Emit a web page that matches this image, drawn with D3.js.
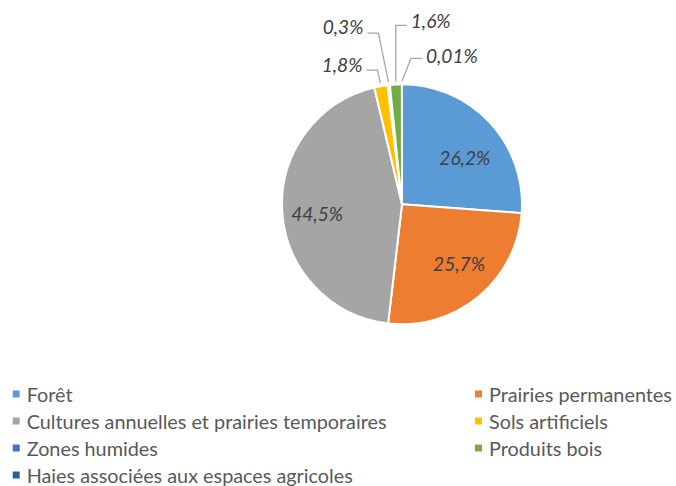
<!DOCTYPE html>
<html>
<head>
<meta charset="utf-8">
<script src="https://cdn.jsdelivr.net/npm/d3@7"></script>
<style>
  html, body { margin: 0; padding: 0; background: #ffffff; }
  svg { display: block; }
</style>
</head>
<body>
<svg id="chart" width="676" height="486"></svg>
<script>
// ---- data ----
const categories = [
  "Forêt",
  "Prairies permanentes",
  "Cultures annuelles et prairies temporaires",
  "Sols artificiels",
  "Zones humides",
  "Produits bois",
  "Haies associées aux espaces agricoles"
];
const values = [26.2, 25.7, 44.5, 1.8, 0.3, 1.6, 0.01];
const valueLabels = ["26,2%", "25,7%", "44,5%", "1,8%", "0,3%", "1,6%", "0,01%"];
const colors = ["#5B9BD5", "#ED7D31", "#A5A5A5", "#FFC000", "#4472C4", "#70AD47", "#255E91"];

// ---- layout (not data) ----
const W = 676, H = 486;
const cx = 402, cy = 204.3, R = 120;
const FONT = "Lato, 'Open Sans', sans-serif";
// inside label nudges relative to centroid (for big slices)
const insideNudge = [[3, 9], [5, -4], [-3.5, 4]];
// outside leader config for small slices: elbow offset from outer point, horizontal dir, text dy
const leaderCfg = {
  3: { elbow: [-3, -13], dir: -1, tdy: -6 },
  4: { elbow: [-10, -49], dir: -1, tdy: -7 },
  5: { elbow: [0, -56], dir: 1, tdy: -5 },
  6: { elbow: [9, -23], dir: 1, tdy: -3 }
};

const svg = d3.select("#chart");
const g = svg.append("g").attr("transform", `translate(${cx},${cy})`);

const pie = d3.pie().sort(null).value(d => d)(values);
const arc = d3.arc().innerRadius(0).outerRadius(R);

g.selectAll("path.slice")
  .data(pie)
  .join("path")
  .attr("class", "slice")
  .attr("d", arc)
  .attr("fill", (d, i) => colors[i])
  .attr("stroke", "#ffffff")
  .attr("stroke-width", 2)
  .attr("stroke-linejoin", "round");

// font fitting helper
function fitSize(text, targetWidth, base, italic) {
  const t = svg.append("text").attr("font-family", FONT).attr("font-size", base)
    .attr("font-style", italic ? "italic" : "normal").text(text);
  const w = t.node().getComputedTextLength();
  t.remove();
  return base * targetWidth / w;
}
const labelSize = fitSize("26,2%", 51, 20, true);
const legendSize = fitSize("Prairies permanentes", 183, 20, false);

// inside labels
const labelArc = d3.arc().innerRadius(R * 0.68).outerRadius(R * 0.68);
pie.slice(0, 3).forEach((d, i) => {
  const [x, y] = labelArc.centroid(d);
  g.append("text")
    .attr("x", x + insideNudge[i][0])
    .attr("y", y + insideNudge[i][1])
    .attr("text-anchor", "middle")
    .attr("dominant-baseline", "central")
    .attr("font-family", FONT)
    .attr("font-style", "italic")
    .attr("font-size", labelSize)
    .attr("fill", "#404040")
    .text(valueLabels[i]);
});

// outside labels with leader lines
const outerArc = d3.arc().innerRadius(R + 3).outerRadius(R + 3);
pie.forEach((d, i) => {
  const cfg = leaderCfg[i];
  if (!cfg) return;
  const [px, py] = outerArc.centroid(d);
  const ex = px + cfg.elbow[0], ey = py + cfg.elbow[1];
  const hx = ex + cfg.dir * 11;
  g.append("polyline")
    .attr("points", [[px, py], [ex, ey], [hx, ey]].map(p => p.join(",")).join(" "))
    .attr("fill", "none")
    .attr("stroke", "#A6A6A6")
    .attr("stroke-width", 1.3);
  g.append("text")
    .attr("x", hx + cfg.dir * 4)
    .attr("y", ey + cfg.tdy)
    .attr("text-anchor", cfg.dir < 0 ? "end" : "start")
    .attr("dominant-baseline", "central")
    .attr("font-family", FONT)
    .attr("font-style", "italic")
    .attr("font-size", labelSize)
    .attr("fill", "#404040")
    .text(valueLabels[i]);
});

// legend
const colX = [12.7, 475];
const rowY0 = 394, rowStep = 27, sq = 7;
const legend = svg.append("g");
categories.forEach((c, i) => {
  const col = i % 2, row = Math.floor(i / 2);
  const x = colX[col], y = rowY0 + row * rowStep;
  legend.append("rect")
    .attr("x", x).attr("y", y - sq / 2)
    .attr("width", sq).attr("height", sq)
    .attr("fill", colors[i]);
  legend.append("text")
    .attr("x", x + 14)
    .attr("y", y)
    .attr("dominant-baseline", "central")
    .attr("font-family", FONT)
    .attr("font-size", legendSize)
    .attr("fill", "#595959")
    .text(c);
});
</script>
</body>
</html>
